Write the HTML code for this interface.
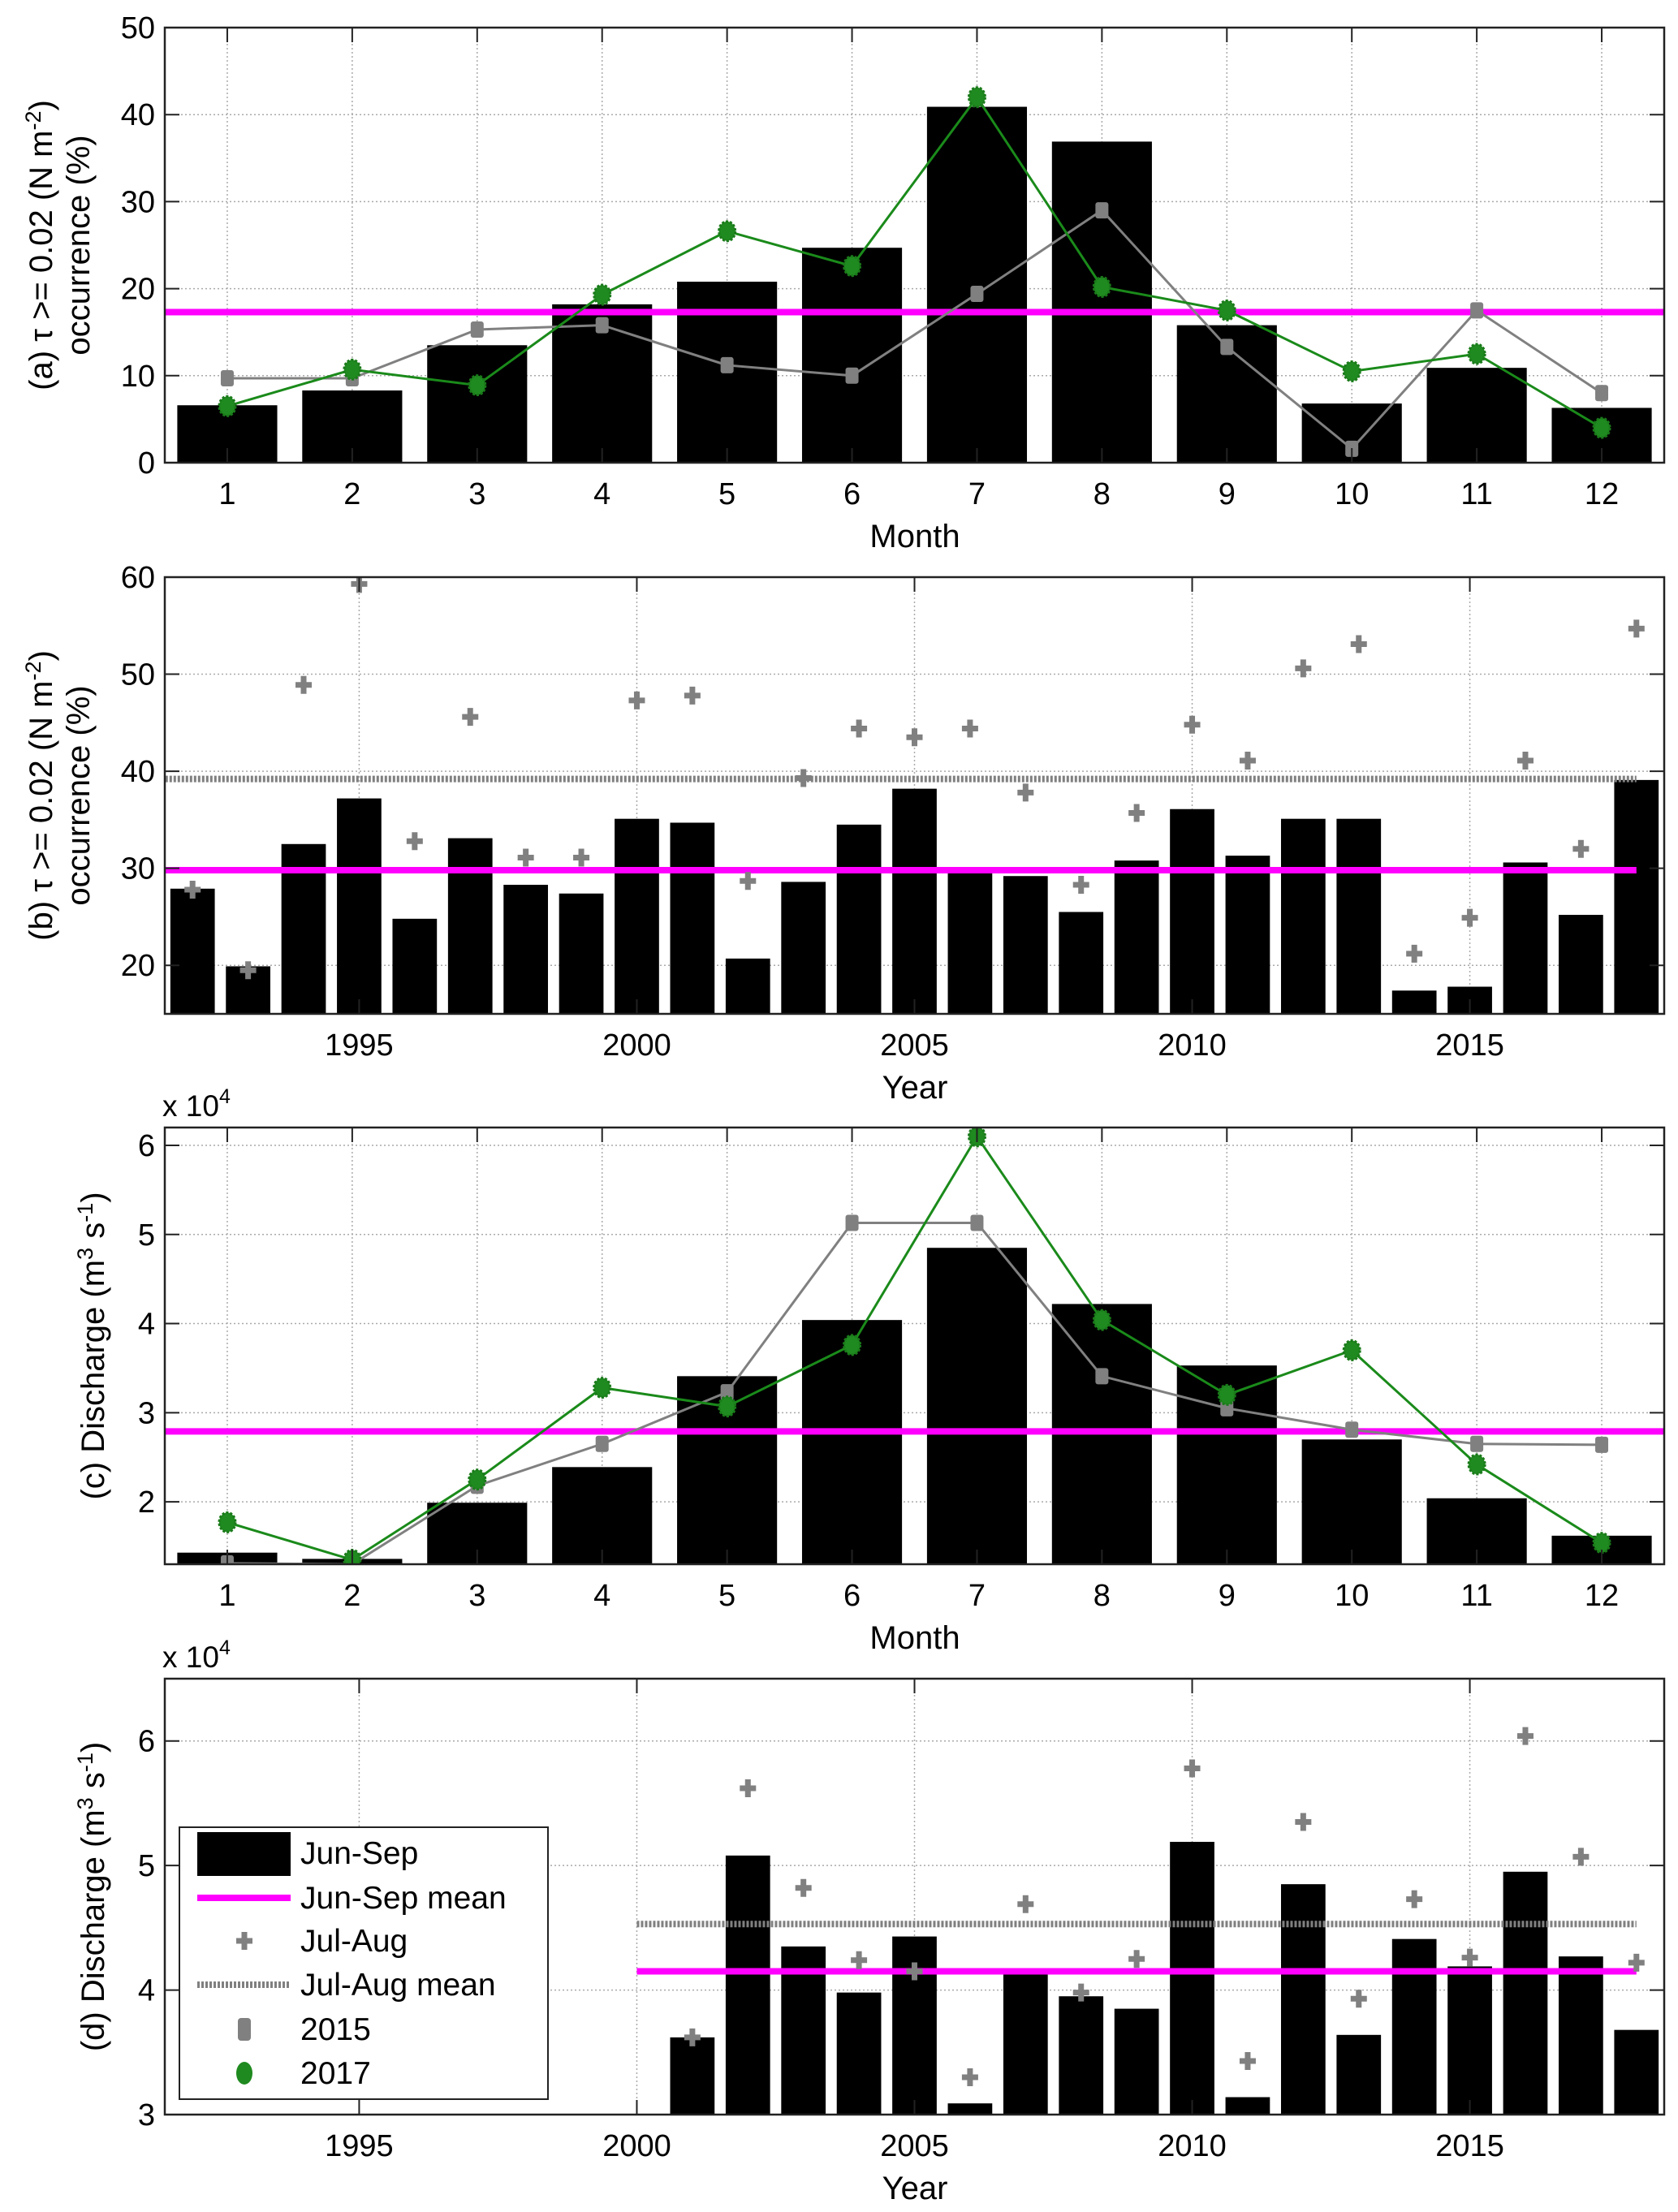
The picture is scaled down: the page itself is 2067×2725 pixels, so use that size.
<!DOCTYPE html>
<html><head><meta charset="utf-8"><style>
html,body{margin:0;padding:0;background:#fff}
svg{display:block}
text{font-family:"Liberation Sans",Arial,sans-serif;fill:#000}
</style></head><body>
<svg id="fig" width="2067" height="2725" viewBox="0 0 2067 2725" xmlns="http://www.w3.org/2000/svg"></svg>
<script>
// ---------- DATA ----------
const months = [1,2,3,4,5,6,7,8,9,10,11,12];
const aBars = [6.6,8.3,13.5,18.2,20.8,24.7,40.9,36.9,15.8,6.8,10.9,6.3];
const aMean = 17.3;
const a2015 = [9.7,9.7,15.3,15.8,11.2,10.0,19.4,29.0,13.3,1.6,17.5,8.0];
const a2017 = [6.5,10.7,8.9,19.3,26.6,22.6,42.0,20.2,17.5,10.5,12.5,4.0];

const bYears = [1992,1993,1994,1995,1996,1997,1998,1999,2000,2001,2002,2003,2004,2005,2006,2007,2008,2009,2010,2011,2012,2013,2014,2015,2016,2017,2018];
const bBars = [27.9,19.9,32.5,37.2,24.8,33.1,28.3,27.4,35.1,34.7,20.7,28.6,34.5,38.2,29.9,29.2,25.5,30.8,36.1,31.3,35.1,35.1,17.4,17.8,30.6,25.2,39.1];
const bCross = [27.8,19.5,48.9,59.3,32.8,45.6,31.1,31.1,47.3,47.8,28.7,39.3,44.4,43.5,44.4,37.8,28.3,35.7,44.8,41.1,50.6,53.1,21.2,24.9,41.1,32.0,54.7];
const bMean = 29.8;
const bCrossMean = 39.2;

const cBars = [1.43,1.36,1.99,2.39,3.41,4.04,4.85,4.22,3.53,2.70,2.04,1.62];
const cMean = 2.79;
const c2015 = [1.31,1.30,2.18,2.65,3.23,5.13,5.13,3.41,3.05,2.81,2.65,2.64];
const c2017 = [1.77,1.35,2.25,3.28,3.07,3.76,6.10,4.04,3.20,3.70,2.42,1.54];

const dYears = [2001,2002,2003,2004,2005,2006,2007,2008,2009,2010,2011,2012,2013,2014,2015,2016,2017,2018];
const dBars = [3.62,5.08,4.35,3.98,4.43,3.09,4.15,3.95,3.85,5.19,3.14,4.85,3.64,4.41,4.19,4.95,4.27,3.68];
const dCross = [3.62,5.62,4.82,4.24,4.15,3.30,4.69,3.98,4.25,5.78,3.43,5.35,3.93,4.73,4.26,6.04,5.07,4.22];
const dMean = 4.15;
const dCrossMean = 4.53;

const monthTicks = [1,2,3,4,5,6,7,8,9,10,11,12];
const yearTicks = [1995,2000,2005,2010,2015];
const aYTicks = [0,10,20,30,40,50];
const bYTicks = [20,30,40,50,60];
const cYTicks = [2,3,4,5,6];
const dYTicks = [3,4,5,6];

// ---------- DRAWING ----------
const NS="http://www.w3.org/2000/svg";
const svg=document.getElementById('fig');
function el(tag,attrs,parent){const e=document.createElementNS(NS,tag);for(const k in attrs)e.setAttribute(k,attrs[k]);(parent||svg).appendChild(e);return e;}

function panel(cfg){
  const g=el('g',{});
  
  
  const L=203,R=2050,T=cfg.top,B=cfg.bottom;
  const sx=v=>L+(v-cfg.xmin)/(cfg.xmax-cfg.xmin)*(R-L);
  const sy=v=>B-(v-cfg.ymin)/(cfg.ymax-cfg.ymin)*(B-T);
  const clipId='clip'+cfg.id;
  const cp=el('clipPath',{id:clipId},g);el('rect',{x:L,y:T,width:R-L,height:B-T},cp);
  cfg.xticks.forEach(t=>{const l=el('line',{x1:sx(t),x2:sx(t),y1:T,y2:B,stroke:'#aaa','stroke-width':1.5,'stroke-dasharray':'2,3'},g);});
  cfg.yticks.forEach(t=>{const l=el('line',{x1:L,x2:R,y1:sy(t),y2:sy(t),stroke:'#aaa','stroke-width':1.5,'stroke-dasharray':'2,3'},g);});
  const pg=el('g',{'clip-path':'url(#'+clipId+')'},g);
  const bw=0.8*(sx(1)-sx(0));
  cfg.bx.forEach((x,i)=>{const y0=sy(cfg.ymin),y1=sy(cfg.bars[i]);
    const r=el('rect',{x:sx(x)-bw/2,y:y1,width:bw,height:y0-y1,fill:'#000'},pg);
    });
  if(cfg.crossMean!==undefined){const l=el('line',{x1:sx(cfg.meanFrom),x2:sx(cfg.meanTo),y1:sy(cfg.crossMean),y2:sy(cfg.crossMean),stroke:'#808080','stroke-width':8,'stroke-dasharray':'3,2'},pg);}
  const m=el('line',{x1:sx(cfg.meanFrom),x2:sx(cfg.meanTo),y1:sy(cfg.mean),y2:sy(cfg.mean),stroke:'#ff00ff','stroke-width':8},pg);
  
  if(cfg.cross){cfg.bx.forEach((x,i)=>{const cx=sx(x),cy=sy(cfg.cross[i]);
    const p=el('path',{d:`M${cx-10},${cy}H${cx+10}M${cx},${cy-11}V${cy+11}`,stroke:'#808080','stroke-width':7},pg);
    });}
  if(cfg.s15){
    const pts15=cfg.bx.map((x,i)=>sx(x)+','+sy(cfg.s15[i])).join(' ');
    const l15=el('polyline',{points:pts15,fill:'none',stroke:'#808080','stroke-width':3},pg);
    
    cfg.bx.forEach((x,i)=>{const r=el('rect',{x:sx(x)-8,y:sy(cfg.s15[i])-10,width:16,height:20,rx:3,fill:'#808080'},pg);});
    const pts17=cfg.bx.map((x,i)=>sx(x)+','+sy(cfg.s17[i])).join(' ');
    const l17=el('polyline',{points:pts17,fill:'none',stroke:'#1a8a1a','stroke-width':3},pg);
    
    cfg.bx.forEach((x,i)=>{const c=el('ellipse',{cx:sx(x),cy:sy(cfg.s17[i]),rx:10,ry:12,fill:'#1f8a1f',stroke:'#1a7a1a','stroke-width':3,'stroke-dasharray':'3,2'},pg);});
  }
  const bx=el('rect',{x:L,y:T,width:R-L,height:B-T,fill:'none',stroke:'#222','stroke-width':2.5},g);
  
  cfg.xticks.forEach(t=>{el('line',{x1:sx(t),x2:sx(t),y1:B,y2:B-18,stroke:'#222','stroke-width':2},g);el('line',{x1:sx(t),x2:sx(t),y1:T,y2:T+18,stroke:'#222','stroke-width':2},g);
    const tx=el('text',{x:sx(t),y:B+51,'font-size':38,'text-anchor':'middle'},g);tx.textContent=t;});
  cfg.yticks.forEach(t=>{el('line',{x1:L,x2:L+18,y1:sy(t),y2:sy(t),stroke:'#222','stroke-width':2},g);el('line',{x1:R,x2:R-18,y1:sy(t),y2:sy(t),stroke:'#222','stroke-width':2},g);
    const tx=el('text',{x:L-12,y:sy(t)+13,'font-size':38,'text-anchor':'end'},g);tx.textContent=t;});
  const xt=el('text',{x:1127,y:B+104,'font-size':40,'text-anchor':'middle'},g);xt.textContent=cfg.xtitle;
  
  const yt=el('text',{transform:`translate(${cfg.ytx},${(T+B)/2}) rotate(-90)`,'font-size':40,'text-anchor':'middle'},g);
  yt.innerHTML=cfg.ytitle;
  
  if(cfg.exp){const e=el('text',{x:200,y:T-14,'font-size':37},g);e.innerHTML='x 10<tspan dy="-16" font-size="25">4</tspan>';}
}

const tauA='<tspan x="0" dy="-16">(a) τ &gt;= 0.02 (N m<tspan dy="-14" font-size="27">-2</tspan><tspan dy="14">)</tspan></tspan><tspan x="0" dy="46">occurrence (%)</tspan>';
const tauB='<tspan x="0" dy="-16">(b) τ &gt;= 0.02 (N m<tspan dy="-14" font-size="27">-2</tspan><tspan dy="14">)</tspan></tspan><tspan x="0" dy="46">occurrence (%)</tspan>';
const disC='(c) Discharge (m<tspan dy="-14" font-size="27">3</tspan><tspan dy="14"> s</tspan><tspan dy="-14" font-size="27">-1</tspan><tspan dy="14">)</tspan>';
const disD='(d) Discharge (m<tspan dy="-14" font-size="27">3</tspan><tspan dy="14"> s</tspan><tspan dy="-14" font-size="27">-1</tspan><tspan dy="14">)</tspan>';

panel({id:'a',name:'panel-a-wind-monthly',top:34,bottom:570,xmin:0.5,xmax:12.5,ymin:0,ymax:50,xticks:monthTicks,yticks:aYTicks,bx:months,bars:aBars,mean:aMean,meanFrom:0.5,meanTo:12.5,s15:a2015,s17:a2017,xtitle:'Month',ytitle:tauA,ytx:80});
panel({id:'b',name:'panel-b-wind-yearly',top:711,bottom:1249,xmin:1991.5,xmax:2018.5,ymin:15,ymax:60,xticks:yearTicks,yticks:bYTicks,bx:bYears,bars:bBars,cross:bCross,mean:bMean,crossMean:bCrossMean,meanFrom:1991,meanTo:2018,xtitle:'Year',ytitle:tauB,ytx:80});
panel({id:'c',name:'panel-c-discharge-monthly',top:1389,bottom:1927,xmin:0.5,xmax:12.5,ymin:1.3,ymax:6.2,xticks:monthTicks,yticks:cYTicks,bx:months,bars:cBars,mean:cMean,meanFrom:0.5,meanTo:12.5,s15:c2015,s17:c2017,xtitle:'Month',ytitle:disC,ytx:128,exp:true});
panel({id:'d',name:'panel-d-discharge-yearly',top:2068,bottom:2605,xmin:1991.5,xmax:2018.5,ymin:3,ymax:6.5,xticks:yearTicks,yticks:dYTicks,bx:dYears,bars:dBars,cross:dCross,mean:dMean,crossMean:dCrossMean,meanFrom:2000,meanTo:2018,xtitle:'Year',ytitle:disD,ytx:128,exp:true});

const lg=el('g',{});


el('rect',{x:221,y:2251,width:454,height:335,fill:'#fff',stroke:'#222','stroke-width':2},lg);
const ly=[2283,2338,2391,2445,2500,2554];
const labels=['Jun-Sep','Jun-Sep mean','Jul-Aug','Jul-Aug mean','2015','2017'];
el('rect',{x:243,y:ly[0]-26,width:115,height:54,fill:'#000'},lg);
el('line',{x1:243,x2:358,y1:ly[1],y2:ly[1],stroke:'#ff00ff','stroke-width':8},lg);
el('path',{d:`M291,${ly[2]}H311M301,${ly[2]-11}V${ly[2]+11}`,stroke:'#808080','stroke-width':7},lg);
el('line',{x1:243,x2:358,y1:ly[3],y2:ly[3],stroke:'#808080','stroke-width':8,'stroke-dasharray':'3,2'},lg);
el('rect',{x:293,y:ly[4]-14,width:16,height:28,rx:4,fill:'#808080'},lg);
el('ellipse',{cx:301,cy:ly[5],rx:10,ry:14,fill:'#1f8a1f'},lg);
labels.forEach((t,i)=>{const tx=el('text',{x:370,y:ly[i]+13,'font-size':39},lg);tx.textContent=t;
  });
</script>
</body></html>
